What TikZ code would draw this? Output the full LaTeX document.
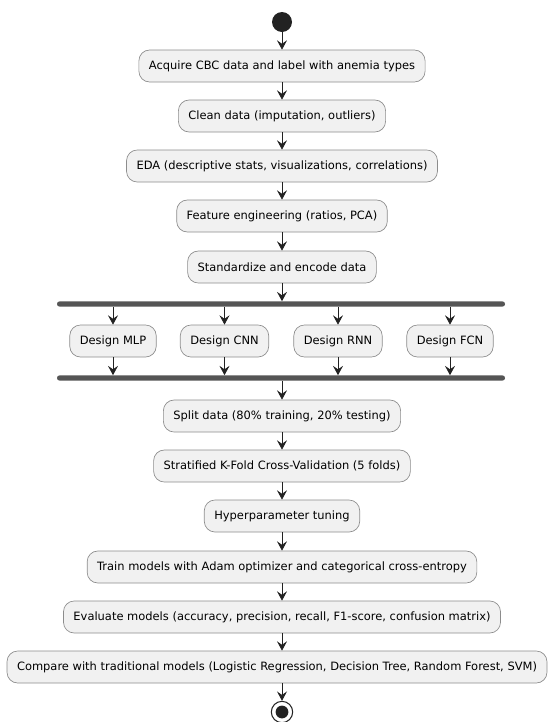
\documentclass[tikz,border=0pt]{standalone}
\usepackage{fontspec}
\setmainfont{DejaVu Sans}
\usetikzlibrary{arrows.meta}
\definecolor{boxFill}{HTML}{F1F1F1}
\definecolor{boxLine}{HTML}{8C8C8C}
\definecolor{barFill}{HTML}{555555}
\definecolor{inkDark}{HTML}{222222}
\tikzstyle{activity}=[shape = rectangle, rounded corners = 8pt, minimum height = 24pt, inner xsep = 7.5pt, draw = boxLine, line width = 0.5pt, fill = boxFill, font = \fontsize{8.6}{10}\selectfont]
\tikzstyle{forkBar}=[shape = rectangle, minimum width = 336pt, minimum height = 3.8pt, inner sep = 0pt, rounded corners = 1.8pt, fill = barFill]
\tikzstyle{flow}=[-{Stealth[length = 7pt, width = 7.5pt, inset = 2.6pt]}, draw = inkDark, line width = 0.6pt]

\begin{document}
\begin{tikzpicture}[x = 0.75pt, y = -0.75pt]
\tikzstyle{startDot}=[shape = circle, minimum size = 15pt, inner sep = 0pt, fill = inkDark]
\tikzstyle{endDot}=[shape = circle, minimum size = 16pt, inner sep = 0pt, draw = inkDark, line width = 0.8pt, fill = white]
\useasboundingbox (0,0) rectangle (553,722);
\node[startDot] (v0) at (282,22) {};
\node[activity] (v1) at (282,66) {Acquire CBC data and label with anemia types};
\node[activity] (v2) at (282,116) {Clean data (imputation, outliers)};
\node[activity] (v3) at (282,166) {EDA (descriptive stats, visualizations, correlations)};
\node[activity] (v4) at (282,216) {Feature engineering (ratios, PCA)};
\node[activity] (v5) at (282,267) {Standardize and encode data};
\node[forkBar] (b1) at (281,304) {};
\node[activity] (d1) at (113,341) {Design MLP};
\node[activity] (d2) at (224.5,341) {Design CNN};
\node[activity] (d3) at (338,341) {Design RNN};
\node[activity] (d4) at (450,341) {Design FCN};
\node[forkBar] (b2) at (281,378) {};
\node[activity] (v6) at (282,416) {Split data (80\% training, 20\% testing)};
\node[activity] (v7) at (282,466) {Stratified K-Fold Cross-Validation (5 folds)};
\node[activity] (v8) at (282,516) {Hyperparameter tuning};
\node[activity] (v9) at (282,567) {Train models with Adam optimizer and categorical cross-entropy};
\node[activity] (v10) at (282,617) {Evaluate models (accuracy, precision, recall, F1-score, confusion matrix)};
\node[activity] (v11) at (277,667) {Compare with traditional models (Logistic Regression, Decision Tree, Random Forest, SVM)};
\node[endDot] (v12) at (282,712) {};
\fill[inkDark] (v12) circle (4.8pt);
\draw[flow] (v0) -- (v1);
\draw[flow] (v1) -- (v2);
\draw[flow] (v2) -- (v3);
\draw[flow] (v3) -- (v4);
\draw[flow] (v4) -- (v5);
\draw[flow] (v5) -- (v5 |- b1.north);
\foreach \d in {d1,d2,d3,d4} {
  \draw[flow] (b1.south -| \d) -- (\d);
  \draw[flow] (\d) -- (\d |- b2.north);
}
\draw[flow] (v6 |- b2.south) -- (v6);
\draw[flow] (v6) -- (v7);
\draw[flow] (v7) -- (v8);
\draw[flow] (v8) -- (v9);
\draw[flow] (v9) -- (v10);
\draw[flow] (v10.south) -- (v10.south |- v11.north);
\draw[flow] (v11.south -| v12) -- (v12);
\end{tikzpicture}
\end{document}
